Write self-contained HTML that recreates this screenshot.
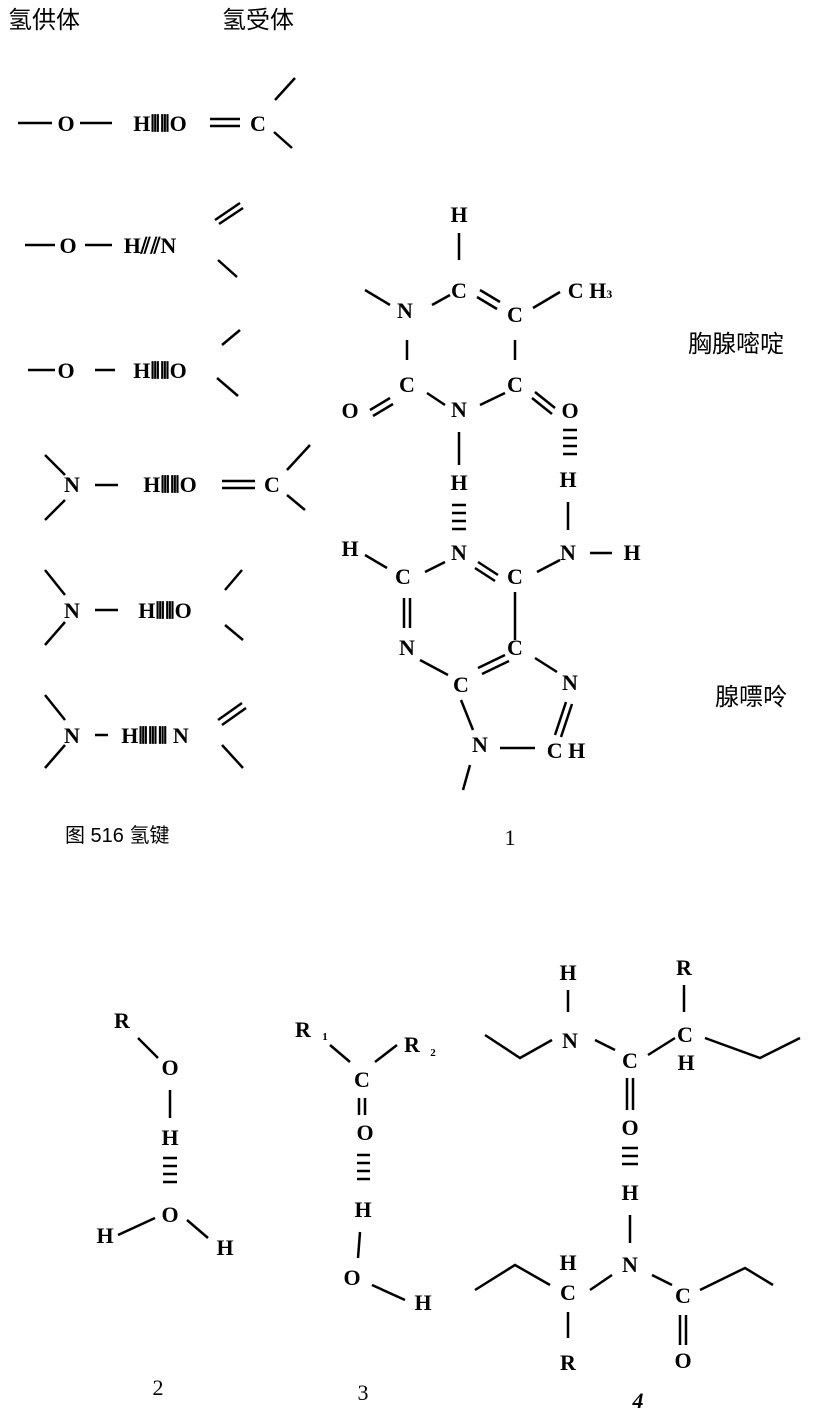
<!DOCTYPE html>
<html><head><meta charset="utf-8"><style>
html,body{margin:0;padding:0;background:#fff;}
svg{display:block;}
text{font-family:"Liberation Serif","Noto Serif CJK SC",serif;font-weight:bold;fill:#000;font-size:22px;text-anchor:middle;}
.cn{font-family:"Liberation Sans","Noto Sans CJK SC",sans-serif;font-weight:normal;font-size:24px;text-anchor:start;}
line,polyline{stroke:#000;stroke-width:2.5;fill:none;}
</style></head><body>
<svg width="822" height="1411" viewBox="0 0 822 1411" xmlns="http://www.w3.org/2000/svg">
<text class="cn" x="8" y="28">氢供体</text>
<text class="cn" x="222" y="28">氢受体</text>

<!-- row1 -->
<text x="160" y="130" style="text-anchor:start" x="0"></text>
<line x1="18" y1="123" x2="52" y2="123"/><text x="66" y="131">O</text>
<line x1="80" y1="123" x2="112" y2="123"/><text x="160" y="131">H⦀⦀O</text>
<line x1="210" y1="119" x2="240" y2="119"/><line x1="210" y1="126" x2="240" y2="126"/>
<text x="258" y="131">C</text>
<line x1="275" y1="100" x2="295" y2="78"/><line x1="274" y1="132" x2="292" y2="148"/>

<!-- row2 -->
<line x1="25" y1="245" x2="55" y2="245"/><text x="68" y="253">O</text>
<line x1="85" y1="245" x2="112" y2="245"/><text x="150" y="253">H⫽⫽N</text>
<line x1="215" y1="220" x2="240" y2="203"/><line x1="219" y1="224" x2="243" y2="208"/>
<line x1="218" y1="260" x2="237" y2="277"/>

<!-- row3 -->
<line x1="28" y1="370" x2="55" y2="370"/><text x="66" y="378">O</text>
<line x1="95" y1="370" x2="115" y2="370"/><text x="160" y="378">H⦀⦀O</text>
<line x1="222" y1="345" x2="240" y2="330"/><line x1="217" y1="378" x2="238" y2="396"/>

<!-- row4 -->
<line x1="45" y1="455" x2="65" y2="475"/><line x1="45" y1="520" x2="65" y2="500"/>
<text x="72" y="492">N</text>
<line x1="95" y1="485" x2="118" y2="485"/><text x="170" y="492">H⦀⦀O</text>
<line x1="222" y1="481" x2="255" y2="481"/><line x1="222" y1="488" x2="255" y2="488"/>
<text x="272" y="492">C</text>
<line x1="287" y1="470" x2="310" y2="445"/><line x1="287" y1="495" x2="305" y2="510"/>

<!-- row5 -->
<line x1="45" y1="570" x2="65" y2="595"/><line x1="45" y1="645" x2="65" y2="622"/>
<text x="72" y="618">N</text>
<line x1="95" y1="610" x2="118" y2="610"/><text x="165" y="618">H⦀⦀O</text>
<line x1="225" y1="590" x2="242" y2="570"/><line x1="225" y1="625" x2="243" y2="640"/>

<!-- row6 -->
<line x1="45" y1="695" x2="65" y2="720"/><line x1="45" y1="768" x2="65" y2="745"/>
<text x="72" y="743">N</text>
<line x1="95" y1="735" x2="108" y2="735"/><text x="155" y="743">H⦀⦀⦀ N</text>
<line x1="218" y1="720" x2="242" y2="703"/><line x1="222" y1="725" x2="246" y2="708"/>
<line x1="222" y1="745" x2="243" y2="768"/>

<text class="cn" x="65" y="842" style="font-size:20px">图 516  氢键</text>
<text x="510" y="845" style="font-weight:normal">1</text>

<!-- thymine -->
<text x="459" y="222">H</text>
<line x1="459" y1="233" x2="459" y2="260"/>
<text x="459" y="298">C</text>
<line x1="365" y1="290" x2="390" y2="305"/>
<text x="405" y="318">N</text>
<line x1="432" y1="305" x2="450" y2="295"/>
<line x1="480" y1="290" x2="500" y2="302"/><line x1="477" y1="297" x2="497" y2="309"/>
<text x="515" y="322">C</text>
<line x1="533" y1="308" x2="560" y2="292"/>
<text x="590" y="298">C H<tspan style="font-size:12px">3</tspan></text>
<line x1="407" y1="340" x2="407" y2="360"/><line x1="515" y1="340" x2="515" y2="360"/>
<text x="407" y="392">C</text><text x="515" y="392">C</text>
<line x1="427" y1="393" x2="445" y2="405"/>
<line x1="480" y1="405" x2="505" y2="393"/>
<text x="459" y="417">N</text>
<line x1="370" y1="410" x2="390" y2="398"/><line x1="373" y1="416" x2="393" y2="404"/>
<text x="350" y="418">O</text>
<line x1="535" y1="392" x2="555" y2="408"/><line x1="532" y1="398" x2="552" y2="414"/>
<text x="570" y="418">O</text>
<line x1="563" y1="430" x2="577" y2="430"/><line x1="563" y1="438" x2="577" y2="438"/><line x1="563" y1="446" x2="577" y2="446"/><line x1="563" y1="454" x2="577" y2="454"/>
<text x="568" y="487">H</text>
<line x1="568" y1="502" x2="568" y2="530"/>
<text x="568" y="560">N</text>
<line x1="590" y1="553" x2="612" y2="553"/>
<text x="632" y="560">H</text>
<line x1="459" y1="432" x2="459" y2="465"/>
<text x="459" y="490">H</text>
<line x1="452" y1="505" x2="466" y2="505"/><line x1="452" y1="513" x2="466" y2="513"/><line x1="452" y1="521" x2="466" y2="521"/><line x1="452" y1="529" x2="466" y2="529"/>
<text x="459" y="560">N</text>
<text x="350" y="556">H</text>
<line x1="365" y1="555" x2="387" y2="568"/>
<text x="403" y="584">C</text>
<line x1="425" y1="572" x2="445" y2="562"/>
<line x1="478" y1="562" x2="498" y2="575"/><line x1="475" y1="568" x2="495" y2="581"/>
<text x="515" y="584">C</text>
<line x1="537" y1="572" x2="560" y2="560"/>
<line x1="515" y1="592" x2="515" y2="640"/>
<line x1="404" y1="598" x2="404" y2="628"/><line x1="410" y1="598" x2="410" y2="628"/>
<text x="407" y="655">N</text>
<text x="515" y="655">C</text>
<line x1="420" y1="660" x2="448" y2="675"/>
<line x1="478" y1="668" x2="505" y2="655"/><line x1="482" y1="674" x2="509" y2="661"/>
<line x1="535" y1="658" x2="557" y2="672"/>
<text x="461" y="692">C</text>
<text x="570" y="690">N</text>
<line x1="461" y1="700" x2="473" y2="730"/>
<line x1="566" y1="702" x2="555" y2="735"/><line x1="572" y1="704" x2="561" y2="737"/>
<text x="480" y="752">N</text>
<line x1="500" y1="748" x2="535" y2="748"/>
<text x="566" y="758">C H</text>
<line x1="470" y1="765" x2="463" y2="790"/>
<text class="cn" x="688" y="352">胸腺嘧啶</text>
<text class="cn" x="715" y="705">腺嘌呤</text>

<!-- 2 -->
<text x="122" y="1028">R</text>
<line x1="138" y1="1038" x2="158" y2="1058"/>
<text x="170" y="1075">O</text>
<line x1="170" y1="1090" x2="170" y2="1118"/>
<text x="170" y="1145">H</text>
<line x1="163" y1="1158" x2="177" y2="1158"/><line x1="163" y1="1166" x2="177" y2="1166"/><line x1="163" y1="1174" x2="177" y2="1174"/><line x1="163" y1="1182" x2="177" y2="1182"/>
<text x="170" y="1222">O</text>
<line x1="118" y1="1235" x2="155" y2="1218"/>
<line x1="187" y1="1220" x2="208" y2="1238"/>
<text x="105" y="1243">H</text><text x="225" y="1255">H</text>
<text x="158" y="1395" style="font-weight:normal">2</text>

<!-- 3 -->
<text x="303" y="1037">R</text><text x="325" y="1040" style="font-size:11px">1</text>
<line x1="330" y1="1045" x2="350" y2="1062"/>
<line x1="375" y1="1062" x2="397" y2="1045"/>
<text x="412" y="1052">R</text><text x="433" y="1056" style="font-size:11px">2</text>
<text x="362" y="1087">C</text>
<line x1="359" y1="1098" x2="359" y2="1115"/><line x1="365" y1="1098" x2="365" y2="1115"/>
<text x="365" y="1140">O</text>
<line x1="357" y1="1155" x2="370" y2="1155"/><line x1="357" y1="1163" x2="370" y2="1163"/><line x1="357" y1="1171" x2="370" y2="1171"/><line x1="357" y1="1179" x2="370" y2="1179"/>
<text x="363" y="1217">H</text>
<line x1="360" y1="1232" x2="358" y2="1258"/>
<text x="352" y="1285">O</text>
<line x1="372" y1="1285" x2="405" y2="1300"/>
<text x="423" y="1310">H</text>
<text x="363" y="1400" style="font-weight:normal">3</text>

<!-- 4 -->
<text x="568" y="980">H</text>
<line x1="568" y1="990" x2="568" y2="1012"/>
<text x="570" y="1048">N</text>
<polyline points="485,1035 520,1058 552,1040"/>
<line x1="595" y1="1040" x2="615" y2="1050"/>
<text x="630" y="1068">C</text>
<line x1="648" y1="1055" x2="675" y2="1038"/>
<text x="684" y="975">R</text>
<line x1="684" y1="985" x2="684" y2="1012"/>
<text x="685" y="1042">C</text>
<text x="686" y="1070">H</text>
<polyline points="705,1038 760,1058 800,1038"/>
<line x1="627" y1="1078" x2="627" y2="1110"/><line x1="633" y1="1078" x2="633" y2="1110"/>
<text x="630" y="1135">O</text>
<line x1="622" y1="1148" x2="638" y2="1148"/><line x1="622" y1="1156" x2="638" y2="1156"/><line x1="622" y1="1164" x2="638" y2="1164"/>
<text x="630" y="1200">H</text>
<line x1="630" y1="1215" x2="630" y2="1243"/>
<text x="630" y="1272">N</text>
<text x="568" y="1270">H</text>
<polyline points="475,1290 515,1265 550,1285"/>
<text x="568" y="1300">C</text>
<line x1="590" y1="1290" x2="612" y2="1275"/>
<line x1="652" y1="1275" x2="672" y2="1285"/>
<text x="683" y="1303">C</text>
<polyline points="700,1290 745,1268 773,1285"/>
<line x1="568" y1="1312" x2="568" y2="1338"/>
<text x="568" y="1370">R</text>
<line x1="680" y1="1315" x2="680" y2="1345"/><line x1="686" y1="1315" x2="686" y2="1345"/>
<text x="683" y="1368">O</text>
<text x="638" y="1408" style="font-style:italic">4</text>
</svg>
</body></html>
